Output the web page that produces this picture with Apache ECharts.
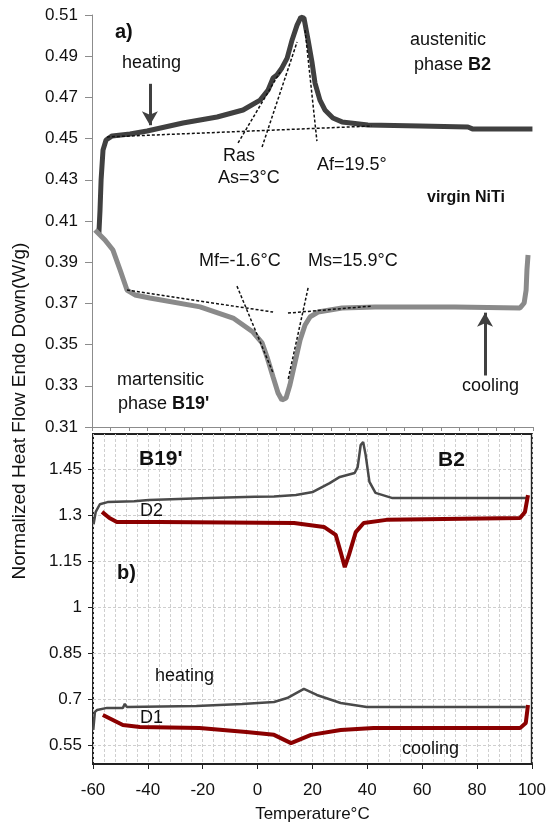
<!DOCTYPE html>
<html>
<head>
<meta charset="utf-8">
<script src="https://cdn.jsdelivr.net/npm/echarts@6/dist/echarts.min.js"></script>
<style>
html, body { margin: 0; padding: 0; background: #fff; }
#chart { width: 549px; height: 827px; }
</style>
</head>
<body>
<div id="chart"></div>
<script>
// panel a) virgin NiTi, [temperature, heat flow]
var heatingA = [[-57.5,0.404],[-57.1,0.415],[-56.7,0.430],[-56.0,0.4445],[-54.9,0.4493],[-52.7,0.4513],[-46.2,0.4522],
  [-40.0,0.4537],[-27.0,0.4576],[-14.6,0.4605],[-5.2,0.4639],[1.0,0.4687],[3.9,0.4736],[5.7,0.4794],[7.1,0.4809],
  [8.9,0.4843],[10.8,0.4891],[12.6,0.4979],[14.4,0.5051],[15.8,0.509],[16.9,0.5085],[18.4,0.4979],[19.8,0.4872],
  [20.9,0.477],[22.7,0.4687],[24.5,0.4639],[27.4,0.460],[30.7,0.4581],[40.1,0.4566],[59.0,0.4561],[76.4,0.4556],
  [78,0.4547],[99.8,0.4547]];
var coolingA = [[-58.9,0.4056],[-58.2,0.4047],[-55.3,0.4008],[-52.4,0.3959],[-49.8,0.3862],[-47.3,0.3765],[-44.4,0.3741],
  [-39.0,0.3726],[-20.8,0.3683],[-8.8,0.3629],[-1.6,0.3561],[1.7,0.3508],[3.5,0.344],[5.7,0.3343],[7.5,0.3265],
  [8.9,0.3231],[10.4,0.3241],[11.8,0.3304],[13.7,0.3416],[15.5,0.3522],[17.3,0.3595],[19.1,0.3634],[22.0,0.3658],
  [30.7,0.3678],[42.7,0.3683],[71.7,0.3683],[95.3,0.3678],[96.8,0.3702],[97.5,0.3765],[97.8,0.3862],[98.2,0.3935]];
// tangent construction lines of panel a)
var tangentsA = [
  [[-54.6,0.4508],[41.6,0.4561]],
  [[-7.0,0.4479],[8.2,0.4823]],
  [[1.7,0.4459],[14.4,0.4969]],
  [[17.3,0.5027],[21.6,0.4488]],
  [[-47.3,0.3765],[5.7,0.3658]],
  [[11.1,0.3653],[41.6,0.3687]],
  [[-7.4,0.3784],[5.7,0.3362]],
  [[18.4,0.3775],[11.1,0.3328]]
];
var arrowHeat = [[-39,0.4766],[-39,0.4565]];
var arrowCool = [[82.6,0.335],[82.6,0.3655]];

// panel b) D1 and D2 samples
var heatingD2 = [[-59.8,1.27],[-59,1.31],[-57.5,1.335],[-54.7,1.342],[-45,1.345],[-39.6,1.349],[-18,1.355],[-1,1.359],
  [6,1.36],[14,1.365],[20.2,1.375],[26.3,1.404],[30,1.424],[35.4,1.437],[36.5,1.456],[37.6,1.528],[38.5,1.538],
  [39.4,1.496],[40.8,1.408],[43,1.372],[49.2,1.355],[98.3,1.355]];
var coolingD2 = [[-56.7,1.31],[-54,1.29],[-51.3,1.277],[-35.7,1.277],[13.3,1.274],[24.2,1.261],[28.5,1.235],[30.3,1.179],
  [31.8,1.13],[33.3,1.169],[35.8,1.244],[38.7,1.274],[47,1.284],[95.7,1.29],[97.5,1.31],[98.6,1.365]];
var heatingD1 = [[-59.9,0.599],[-59.3,0.658],[-58.5,0.664],[-54.9,0.671],[-49.1,0.671],[-48.4,0.684],[-47.7,0.674],
  [-22.3,0.677],[-5.6,0.684],[6,0.69],[10.8,0.703],[16.9,0.733],[21.6,0.713],[30.3,0.687],[39.8,0.674],[97.8,0.674]];
var coolingD1 = [[-56.4,0.648],[-49.1,0.615],[-42.9,0.609],[-21.2,0.605],[-4.1,0.592],[6,0.583],[12.2,0.556],[19.5,0.583],
  [30.3,0.599],[42.3,0.605],[95.7,0.605],[97.8,0.622],[98.6,0.68]];

var yTicksB = [0.55, 0.7, 0.85, 1, 1.15, 1.3, 1.45];

var FONT = "'Liberation Sans', Arial, sans-serif";

function txt(x, y, text, size, bold, extra) {
  var el = {
    type: 'text', x: x, y: y, z: 100,
    style: {
      text: text, fill: '#111', font: (bold ? 'bold ' : '') + size + 'px ' + FONT,
      align: 'left', verticalAlign: 'middle'
    }
  };
  if (extra) for (var k in extra) el.style[k] = extra[k];
  return el;
}
var richB = function (size) { return { b: { fontWeight: 'bold', fontSize: size, fontFamily: FONT, fill: '#111' } }; };

var series = [];
tangentsA.forEach(function (seg) {
  series.push({
    type: 'line', xAxisIndex: 0, yAxisIndex: 0, data: seg, showSymbol: false, silent: true,
    lineStyle: { color: '#111', width: 1.5, type: [3, 2] }, z: 5
  });
});
series.push({
  type: 'line', xAxisIndex: 0, yAxisIndex: 0, data: heatingA, showSymbol: false,
  lineStyle: { color: '#404040', width: 5 }, z: 3,
  markLine: {
    silent: true, symbol: ['none', 'arrow'], symbolSize: [12, 14], label: { show: false },
    lineStyle: { color: '#404040', width: 3, type: 'solid' },
    data: [
      [{ coord: arrowHeat[0] }, { coord: arrowHeat[1] }],
      [{ coord: arrowCool[0] }, { coord: arrowCool[1] }]
    ]
  }
});
series.push({
  type: 'line', xAxisIndex: 0, yAxisIndex: 0, data: coolingA, showSymbol: false,
  lineStyle: { color: '#8a8a8a', width: 5 }, z: 3
});
series.push({
  type: 'line', xAxisIndex: 1, yAxisIndex: 1, data: heatingD2, showSymbol: false,
  lineStyle: { color: '#4a4a4a', width: 2.5 }
});
series.push({
  type: 'line', xAxisIndex: 1, yAxisIndex: 1, data: coolingD2, showSymbol: false,
  lineStyle: { color: '#8b0000', width: 4 }
});
series.push({
  type: 'line', xAxisIndex: 1, yAxisIndex: 1, data: heatingD1, showSymbol: false,
  lineStyle: { color: '#4a4a4a', width: 2.5 }
});
series.push({
  type: 'line', xAxisIndex: 1, yAxisIndex: 1, data: coolingD1, showSymbol: false,
  lineStyle: { color: '#8b0000', width: 4 }
});

var chart = echarts.init(document.getElementById('chart'));
chart.setOption({
  animation: false,
  backgroundColor: '#fff',
  textStyle: { fontFamily: FONT },
  grid: [
    { left: 92, top: 15, width: 441, height: 412 },
    { left: 93, top: 434, width: 441, height: 330, show: true, borderColor: '#222', borderWidth: 2 }
  ],
  xAxis: [
    {
      gridIndex: 0, type: 'value', min: -60, max: 100, interval: 20 / 3,
      axisLine: { show: true, onZero: false, lineStyle: { color: '#8c8c8c', width: 1 } },
      axisTick: { show: true, length: 4, lineStyle: { color: '#8c8c8c' } },
      axisLabel: { show: false }, splitLine: { show: false }
    },
    {
      gridIndex: 1, type: 'value', min: -60, max: 100, interval: 20,
      name: 'Temperature\u00b0C', nameLocation: 'middle', nameGap: 42,
      nameTextStyle: { fontSize: 17, color: '#111', fontFamily: FONT },
      axisLine: { show: true, onZero: false, lineStyle: { color: '#222', width: 2 } },
      axisTick: { show: true, length: 5, lineStyle: { color: '#222' } },
      axisLabel: { fontSize: 17, color: '#111', margin: 18, fontFamily: FONT },
      splitLine: { show: true, lineStyle: { color: '#cfcfcf', type: [3, 2], width: 1 } },
      minorTick: { show: false, splitNumber: 5 },
      minorSplitLine: { show: true, lineStyle: { color: '#cfcfcf', type: [3, 2], width: 1 } }
    }
  ],
  yAxis: [
    {
      gridIndex: 0, type: 'value', min: 0.31, max: 0.51, interval: 0.02,
      axisLine: { show: true, onZero: false, lineStyle: { color: '#8c8c8c', width: 1 } },
      axisTick: { show: true, length: 7, lineStyle: { color: '#8c8c8c' } },
      axisLabel: { fontSize: 17, color: '#111', margin: 14, fontFamily: FONT,
        formatter: function (v) { return v.toFixed(2); } },
      splitLine: { show: false }
    },
    {
      gridIndex: 1, type: 'value', min: 0.488, max: 1.564,
      axisLine: { show: false, onZero: false },
      axisTick: { show: true, length: 5, customValues: yTicksB, lineStyle: { color: '#222' } },
      axisLabel: { fontSize: 17, color: '#111', margin: 11, customValues: yTicksB, fontFamily: FONT },
      splitLine: { show: true, lineStyle: { color: '#cfcfcf', type: [3, 2], width: 1 } }
    }
  ],
  graphic: [
    {
      type: 'text', x: 20, y: 411, rotation: Math.PI / 2, z: 100,
      style: { text: 'Normalized Heat Flow Endo Down(W/g)', font: '19px ' + FONT, fill: '#111',
        align: 'center', verticalAlign: 'middle' }
    },
    txt(115, 32, 'a)', 20, true),
    txt(122, 63, 'heating', 18),
    txt(410, 40, 'austenitic', 18),
    txt(414, 65, 'phase {b|B2}', 18, false, { rich: richB(18) }),
    txt(223, 156, 'Ras', 18),
    txt(218, 178, 'As=3\u00b0C', 18),
    txt(317, 165, 'Af=19.5\u00b0', 18),
    txt(427, 198, 'virgin NiTi', 16, true),
    txt(199, 261, 'Mf=-1.6\u00b0C', 18),
    txt(308, 261, 'Ms=15.9\u00b0C', 18),
    txt(117, 380, 'martensitic', 18),
    txt(118, 404, 'phase {b|B19\'}', 18, false, { rich: richB(18) }),
    txt(462, 386, 'cooling', 18),
    txt(139, 459, 'B19\'', 21, true),
    txt(438, 460, 'B2', 21, true),
    txt(140, 511, 'D2', 18),
    txt(117, 573, 'b)', 20, true),
    txt(155, 676, 'heating', 18),
    txt(140, 718, 'D1', 18),
    txt(402, 749, 'cooling', 18)
  ],
  series: series
});
</script>
</body>
</html>
